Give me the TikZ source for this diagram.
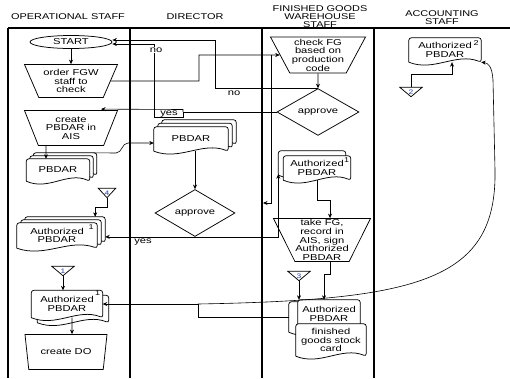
\documentclass[tikz,border=0pt]{standalone}
\usepackage{fontspec}
\setmainfont{Liberation Sans}[FakeStretch=1.3]
\usetikzlibrary{shapes.geometric, arrows.meta, positioning, calc, backgrounds}
\definecolor{cdig}{HTML}{2B3F8F}

%% document shape: straight top, wavy bottom (drawn behind the text)
\newcommand{\wdoc}[1]{%
  \begin{pgfonlayer}{background}
    \draw[docline] (#1.south west) -- (#1.north west) -- (#1.north east)
      -- (#1.south east)
      .. controls ($(#1.south east)!0.35!(#1.south west)+(0,-10)$)
      and ($(#1.south west)!0.35!(#1.south east)+(0,10)$) .. (#1.south west);
  \end{pgfonlayer}}
%% off-page connector
\newcommand{\offpg}[1]{%
  \draw[shapeline] (#1.north west) -- (#1.north east) -- (#1.south) -- cycle;}

\begin{document}
\begin{tikzpicture}[x=1pt, y=-1pt,
  lane/.style={line width=1.2pt},
  shapeline/.style={draw, line width=0.75pt},
  docline/.style={draw, fill=white, line width=0.75pt, rounded corners=2.5pt},
  hdr/.style={font=\fontsize{8.4}{8.2}\selectfont, align=center, inner sep=0pt},
  txt/.style={font=\fontsize{8.6}{8.7}\selectfont, align=center},
  trap/.style={trapezium, trapezium angle=#1, shape border rotate=180,
               trapezium stretches body, shapeline, txt, inner sep=0.5pt},
  trap/.default=60,
  dec/.style={diamond, shapeline, txt, inner sep=0pt},
  doc/.style n args={2}{minimum width=#1, minimum height=#2, inner sep=0pt, txt},
  offpage/.style={minimum width=#1, minimum height=9pt, inner sep=0pt,
                  font=\fontsize{6.5}{6.5}\selectfont, text=cdig},
  docnum/.style={font=\fontsize{7}{7}\selectfont, inner sep=0pt},
  lbl/.style={txt, inner sep=0.6pt},
  arr/.style={-{Stealth[length=4.5pt, width=4pt]}, line width=0.6pt}
]
\useasboundingbox (0,0) rectangle (510,378);

%% Lanes
\draw[lane] (8,28) -- (510,28);
\foreach \x in {8,130,262,374} \draw[lane] (\x,28) -- (\x,378);
\node[hdr] (h-op)  at (68,17)  {OPERATIONAL STAFF};
\node[hdr] (h-dir) at (195,17) {DIRECTOR};
\node[hdr] (h-fg)  at (320,16.5) {FINISHED GOODS\\WAREHOUSE\\STAFF};
\node[hdr] (h-acc) at (442,18) {ACCOUNTING\\STAFF};

%% Operational staff
\node[ellipse, shapeline, txt, minimum width=82pt, minimum height=13pt,
      inner sep=0pt] (start) at (71,42) {START};
\node[trap, minimum width=93pt, minimum height=33pt] (order) at (71,81)
  {order FGW\\staff to\\check};
\node[trap, minimum width=93pt, minimum height=35pt] (create) at (71,128)
  {create\\PBDAR in\\AIS};
\node[doc={63pt}{22pt}] (oppb-2) at (65,164) {};
\node[doc={63pt}{22pt}] (oppb-1) at (61.5,167) {};
\node[doc={63pt}{22pt}] (oppb)   at (58,170) {PBDAR};
\wdoc{oppb-2}\wdoc{oppb-1}\wdoc{oppb}
\node[offpage=17pt] (tri4) at (107,193) {4};
\offpg{tri4}
\node[doc={80pt}{25pt}] (opauthA-2) at (65,229.5) {};
\node[doc={80pt}{25pt}] (opauthA-1) at (61,232.5) {};
\node[doc={80pt}{25pt}] (opauthA)   at (57,235.5) {Authorized\\PBDAR};
\wdoc{opauthA-2}\wdoc{opauthA-1}\wdoc{opauthA}
\node[docnum] (opauthA-n) at ($(opauthA.north east)+(-6,4)$) {1};
\node[offpage=22pt] (tri1) at (63,271) {1};
\offpg{tri1}
\node[doc={71pt}{27pt}] (opauthB-1) at (73,309) {};
\node[doc={71pt}{27pt}] (opauthB)   at (67,304) {Authorized\\PBDAR};
\wdoc{opauthB-1}\wdoc{opauthB}
\node[docnum] (opauthB-n) at ($(opauthB.north east)+(-5,3)$) {1};
\node[trap=62, minimum width=82pt, minimum height=35pt] (createdo) at (66,352)
  {\makebox[44pt]{create DO}};

%% Director
\node[doc={74pt}{24pt}] (dirpb-2) at (199,132) {};
\node[doc={74pt}{24pt}] (dirpb-1) at (195,135.5) {};
\node[doc={74pt}{24pt}] (dirpb)   at (191,139) {PBDAR};
\wdoc{dirpb-2}\wdoc{dirpb-1}\wdoc{dirpb}
\node[dec, minimum width=80pt, minimum height=47pt] (dirapp) at (195,213) {approve};

%% Finished goods warehouse staff
\node[trap, minimum width=95pt, minimum height=36pt] (check) at (318,55)
  {check FG\\based on\\production\\code};
\node[dec, minimum width=82pt, minimum height=46pt] (fgapp) at (318,112) {approve};
\node[doc={67pt}{24pt}] (fgauthA-1) at (312,163) {};
\node[doc={67pt}{24pt}] (fgauthA)   at (317,168) {Authorized\\PBDAR};
\wdoc{fgauthA-1}\wdoc{fgauthA}
\node[docnum] (fgauthA-n) at ($(fgauthA.north east)+(-4,4)$) {1};
\node[trap=63, minimum width=97pt, minimum height=43pt] (take) at (322,240)
  {take FG,\\record in\\AIS, sign\\\makebox[48pt]{Authorized}\\PBDAR};
\node[offpage=22pt] (tri3) at (299,276) {3};
\offpg{tri3}
\node[doc={62pt}{30pt}] (fgauthB-1) at (320,317) {};
\node[doc={62pt}{30pt}] (fgauthB)   at (329,315) {\raisebox{2pt}{\shortstack{Authorized\\PBDAR}}};
\node[doc={70pt}{32pt}] (card)      at (331,340) {finished\\goods stock\\card};
\wdoc{fgauthB-1}\wdoc{fgauthB}\wdoc{card}

%% Accounting staff
\node[doc={72pt}{24pt}] (accauth) at (445,50) {Authorized\\PBDAR};
\wdoc{accauth}
\node[docnum] (accauth-n) at ($(accauth.north east)+(-5,5)$) {2};
\node[offpage=22pt] (tri2) at (411,92) {2};
\offpg{tri2}

\coordinate (fgin) at (263,203);
\coordinate (bk)   at (198,304);

%% Operational flow
\draw[arr] (start) -- (order);
\draw[arr] ($(create.south)+(-25,0)$) -- ($(oppb.north)+(-12,0)$);
\draw[arr] ($(oppb-2.north east)+(-3,0)$) -- (116,153) to[out=0,in=180] (128,143)
  -- ($(dirpb.west)+(0,4)$);
\draw[arr] (tri4.south) -- ++(0,10) -| ($(opauthA-2.north east)+(-10,0)$);
\draw[arr] (tri1.south) -- (tri1.south |- opauthB.north);
\draw[arr] ($(opauthB.south)+(5,0)$) -- ($(createdo.north)+(6,0)$);

%% Order to warehouse
\draw[arr] (order.east) -| (199,55) -- (check.west);
\draw[arr] ($(check.west)+(-8,0)$) |- (fgin);
\draw[arr] (check) -- (fgapp);

%% Warehouse approval
\draw[arr] (fgapp.north) -| (215,40) -- ([yshift=2pt]start.east);
\node[lbl, anchor=north] (lno2) at (234,90) {no};
\draw[arr] (fgapp.west) -- (183,112) coordinate (yc) -- (183,117) -| (154,44)
  -- ([yshift=-2pt]start.east);
\node[lbl, fill=white] (lno1) at (156,50) {no};
\draw[arr] (yc) -- ++(0,-2.5) -- ($(create.north)+(30,-1)$);
\node[lbl, anchor=north] (lyes1) at (169,110) {yes};

%% Director approval
\draw[arr] (dirpb.south -| dirapp.north) -- (dirapp.north);
\draw[arr] (dirapp.south) -- (dirapp.south -| opauthA-2.east);
\draw[arr] (dirapp.south) -| ($(fgauthA-1.south west)+(0,-1)$);
\node[lbl, anchor=north] (lyes2) at (143,238) {yes};

%% Warehouse processing
\draw[arr] (fgauthA.south) -- ++(0,20) -| ($(take.north)+(8,0)$);
\draw[arr] ($(take.south)+(8,0)$) -- ++(0,12) -| ($(fgauthB.north)+(-5,0)$);
\draw[arr] (tri3.south) -- (tri3.south |- fgauthB.north);
\draw[arr] (fgauthB-1.west) -| (bk) -- (opauthB.east);

%% To accounting
\draw[arr] (bk) .. controls (420,300) and (497,280) .. (495,170) -- (493,80)
  .. controls (492,66) and (488,63) .. (accauth.south east);
\draw[arr] (tri2.north) -- ++(0,-13) -| ($(accauth.south)+(7,0)$);

\end{tikzpicture}
\end{document}
